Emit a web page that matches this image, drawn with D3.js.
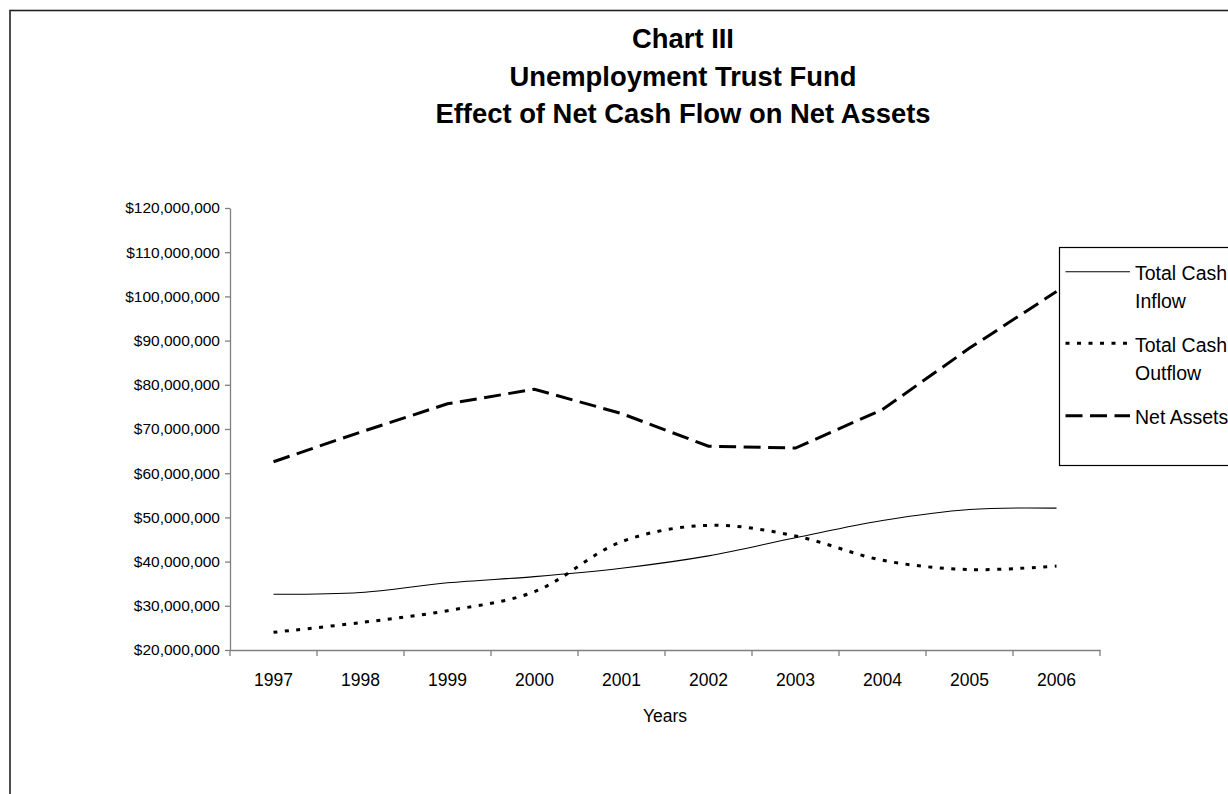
<!DOCTYPE html>
<html>
<head>
<meta charset="utf-8">
<script src="https://cdn.jsdelivr.net/npm/d3@7/dist/d3.min.js"></script>
<style>
  html, body { margin: 0; padding: 0; background: #fff; }
  svg { display: block; }
  text { font-family: "Liberation Sans", Arial, sans-serif; fill: #000; }
</style>
</head>
<body>
<svg id="chart" width="1228" height="794"></svg>
<script>
// ---- data ----
const years = ["1997","1998","1999","2000","2001","2002","2003","2004","2005","2006"];
const totalCashInflow  = [32600000, 33000000, 35200000, 36600000, 38500000, 41300000, 45400000, 49300000, 51800000, 52100000];
const totalCashOutflow = [24000000, 26200000, 28900000, 33200000, 44500000, 48200000, 45800000, 40300000, 38200000, 39000000];
const netAssets        = [62600000, 69300000, 75700000, 79000000, 73500000, 66100000, 65700000, 74400000, 88300000, 101100000];
const yTicks = [20000000,30000000,40000000,50000000,60000000,70000000,80000000,90000000,100000000,110000000,120000000];
const titleLines = ["Chart III", "Unemployment Trust Fund", "Effect of Net Cash Flow on Net Assets"];
const seriesNames = [["Total Cash", "Inflow"], ["Total Cash", "Outflow"], ["Net Assets"]];
const xTitle = "Years";

const svg = d3.select("#chart");

// outer border (right/bottom run off the page)
svg.append("rect")
  .attr("x", 10).attr("y", 10.5)
  .attr("width", 1240).attr("height", 800)
  .attr("fill", "none").attr("stroke", "#222").attr("stroke-width", 1.6);

// title
titleLines.forEach((t, i) => {
  svg.append("text")
    .attr("x", 683).attr("y", 48 + i * 37.5)
    .attr("text-anchor", "middle")
    .attr("font-size", 27.4).attr("font-weight", "bold")
    .text(t);
});

const x0 = 230, x1 = 1100, yTop = 208, yBot = 650;
const x = d3.scaleBand().domain(years).range([x0, x1]).padding(0);
const y = d3.scaleLinear().domain([20000000, 120000000]).range([yBot, yTop]);
const fmt = d => "$" + d3.format(",")(d);

// y axis
const yAxis = svg.append("g").attr("transform", `translate(${x0},0)`)
  .call(d3.axisLeft(y).tickValues(yTicks).tickFormat(fmt).tickSize(5).tickPadding(5).tickSizeOuter(0));
yAxis.selectAll("path, line").attr("stroke", "#808080").attr("stroke-width", 1.3);
yAxis.selectAll("text").attr("font-size", 15.5).attr("font-family", '"Liberation Sans", Arial, sans-serif').attr("fill", "#000");

// x axis
const xAxis = svg.append("g").attr("transform", `translate(0,${yBot})`)
  .call(d3.axisBottom(x).tickSize(0).tickPadding(24).tickSizeOuter(0));
xAxis.select("path").attr("stroke", "#808080").attr("stroke-width", 1.3);
xAxis.selectAll("text").attr("font-size", 17.5).attr("font-family", '"Liberation Sans", Arial, sans-serif').attr("fill", "#000");
// boundary tick marks between categories
const bounds = years.map(d => x(d)).concat([x(years[years.length - 1]) + x.bandwidth()]);
svg.append("g").selectAll("line").data(bounds).join("line")
  .attr("x1", d => d).attr("x2", d => d)
  .attr("y1", yBot).attr("y2", yBot + 6)
  .attr("stroke", "#808080").attr("stroke-width", 1.3);

// x title
svg.append("text")
  .attr("x", (x0 + x1) / 2).attr("y", 722)
  .attr("text-anchor", "middle").attr("font-size", 17.5)
  .text(xTitle);

const cx = d => x(d) + x.bandwidth() / 2;
const smooth = d3.line().x((d, i) => cx(years[i])).y(d => y(d)).curve(d3.curveCatmullRom.alpha(0.5));
const straight = d3.line().x((d, i) => cx(years[i])).y(d => y(d));

const styles = [
  { w: 1.1, dash: null },
  { w: 3, dash: "4,7.5" },
  { w: 3, dash: "17,7.5" }
];

svg.append("path").attr("d", smooth(totalCashInflow))
  .attr("fill", "none").attr("stroke", "#000").attr("stroke-width", styles[0].w);
svg.append("path").attr("d", smooth(totalCashOutflow))
  .attr("fill", "none").attr("stroke", "#000").attr("stroke-width", styles[1].w)
  .attr("stroke-dasharray", styles[1].dash);
svg.append("path").attr("d", straight(netAssets))
  .attr("fill", "none").attr("stroke", "#000").attr("stroke-width", styles[2].w)
  .attr("stroke-dasharray", styles[2].dash);

// legend
const lg = svg.append("g");
lg.append("rect").attr("x", 1059.5).attr("y", 247.5).attr("width", 220).attr("height", 218)
  .attr("fill", "#fff").attr("stroke", "#000").attr("stroke-width", 1.2);
const sampleY = [271.7, 343.3, 415.7];
const textY = [[279.5, 307.8], [351.8, 380.1], [424.4]];
seriesNames.forEach((names, i) => {
  lg.append("line").attr("x1", 1065.5).attr("x2", 1130).attr("y1", sampleY[i]).attr("y2", sampleY[i])
    .attr("stroke", "#000").attr("stroke-width", styles[i].w)
    .attr("stroke-dasharray", styles[i].dash);
  names.forEach((n, j) => {
    lg.append("text").attr("x", 1135).attr("y", textY[i][j]).attr("font-size", 19.5).text(n);
  });
});
</script>
</body>
</html>
